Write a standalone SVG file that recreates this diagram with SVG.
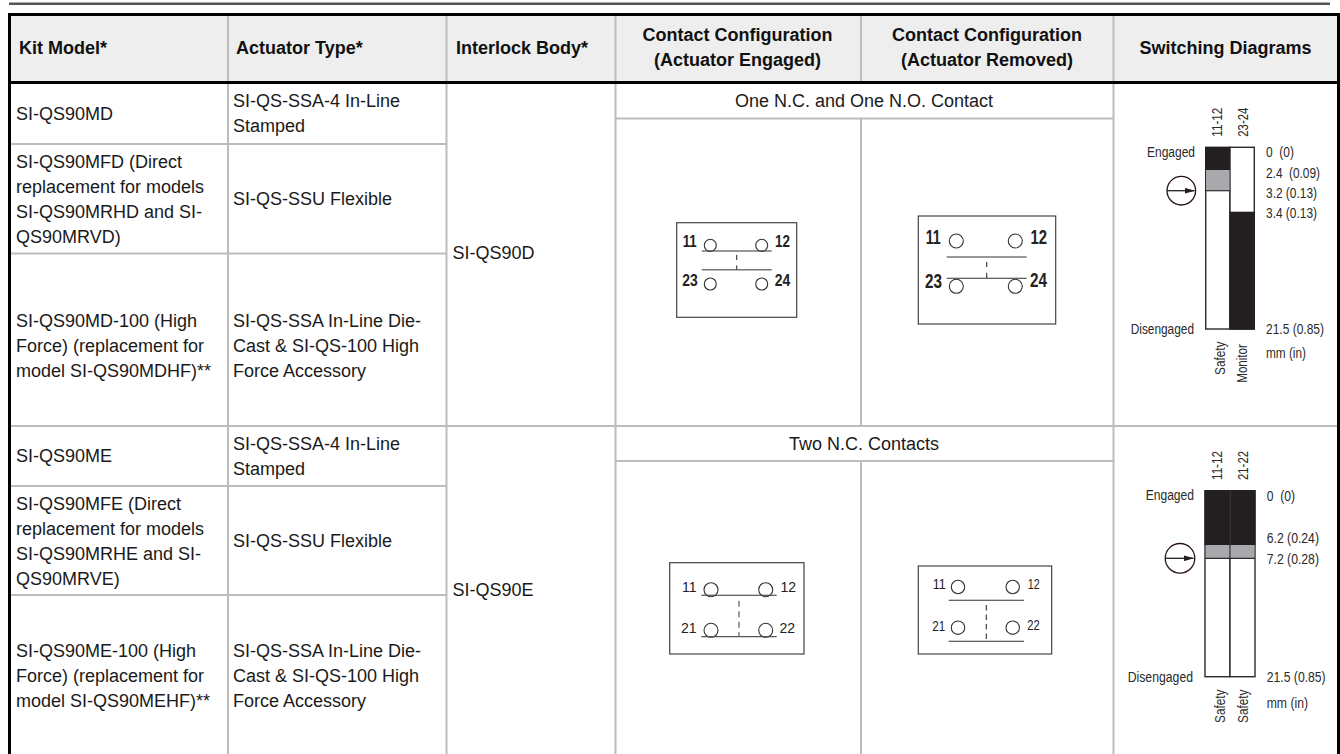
<svg xmlns="http://www.w3.org/2000/svg" width="1340" height="754" viewBox="0 0 1340 754">
<style>
text{font-family:"Liberation Sans",Arial,sans-serif;fill:#1a1a1a}
.c{font-size:18px}
.h{font-size:18px;font-weight:bold;fill:#111}
.m{text-anchor:middle}
.g{stroke:#bcbcbc;stroke-width:2;fill:none}
.k{stroke:#000;stroke-width:3;fill:none}
.d{font-size:15.5px;fill:#2a2a2a}
.b{font-weight:bold;font-size:17px;fill:#222}
.b2{font-weight:bold;font-size:19.5px;fill:#222}
.n{font-size:14px;fill:#222}
.n2{font-size:15px;fill:#222}
.o{fill:#fff;stroke:#333;stroke-width:1.1}
.l{stroke:#333;stroke-width:1.1;fill:none}
.r{stroke:#444;stroke-width:1.2;fill:none}
.bar{stroke:#2a2a2a;stroke-width:1.4;fill:#fff}
.blk{fill:#231f20}
.gry{fill:#a7a9ac}
</style>
<defs>
<marker id="ah" markerWidth="10" markerHeight="6" refX="9.5" refY="3" orient="auto" markerUnits="userSpaceOnUse"><path d="M0 0.2L10 3L0 5.8Z" fill="#231f20"/></marker>
</defs>
<rect width="1340" height="754" fill="#fff"/>
<rect id="top-rule" x="9" y="2.500" width="1321" height="2.500" fill="#555"/>
<g id="table-grid">
<rect x="9.500" y="14.500" width="1328" height="68" fill="#eee"/>
<path class="g" d="M228 15V754M446.500 15V754M615.500 15V754M861 15V81M861 118V425M861 461V754M1113.500 15V754"/>
<path class="g" d="M10 144H446M10 253.500H446M10 426H1337M10 486H446M10 595H446M615 118.500H1113M615 461H1113"/>
<path class="k" d="M9.500 754V14.500H1338.500V754M9.500 82.500H1338.500"/>
</g>
<g id="header">
<text class="h" x="19" y="54.300">Kit Model*</text>
<text class="h" x="236" y="54.300">Actuator Type*</text>
<text class="h" x="456" y="54.300">Interlock Body*</text>
<text class="h m" x="737.500" y="40.700">Contact Configuration</text>
<text class="h m" x="737.500" y="65.700">(Actuator Engaged)</text>
<text class="h m" x="987" y="40.700">Contact Configuration</text>
<text class="h m" x="987" y="65.700">(Actuator Removed)</text>
<text class="h m" x="1225.500" y="54.300">Switching Diagrams</text>
</g>
<g id="rows">
<text class="c" x="16" y="119.500">SI-QS90MD</text>
<text class="c" x="233" y="107">SI-QS-SSA-4 In-Line</text>
<text class="c" x="233" y="131.500">Stamped</text>
<text class="c" x="16" y="167.500">SI-QS90MFD (Direct</text>
<text class="c" x="16" y="192.500">replacement for models</text>
<text class="c" x="16" y="217.500">SI-QS90MRHD and SI-</text>
<text class="c" x="16" y="242.500">QS90MRVD)</text>
<text class="c" x="233" y="204.500">SI-QS-SSU Flexible</text>
<text class="c" x="16" y="326.500">SI-QS90MD-100 (High</text>
<text class="c" x="16" y="351.500">Force) (replacement for</text>
<text class="c" x="16" y="376.500">model SI-QS90MDHF)**</text>
<text class="c" x="233" y="326.500">SI-QS-SSA In-Line Die-</text>
<text class="c" x="233" y="351.500">Cast &amp; SI-QS-100 High</text>
<text class="c" x="233" y="376.500">Force Accessory</text>
<text class="c" x="452.500" y="258.500">SI-QS90D</text>
<text class="c m" x="864" y="106.500">One N.C. and One N.O. Contact</text>
<text class="c" x="16" y="461.500">SI-QS90ME</text>
<text class="c" x="233" y="449.500">SI-QS-SSA-4 In-Line</text>
<text class="c" x="233" y="474.500">Stamped</text>
<text class="c" x="16" y="509.500">SI-QS90MFE (Direct</text>
<text class="c" x="16" y="534.500">replacement for models</text>
<text class="c" x="16" y="559.500">SI-QS90MRHE and SI-</text>
<text class="c" x="16" y="584.500">QS90MRVE)</text>
<text class="c" x="233" y="547">SI-QS-SSU Flexible</text>
<text class="c" x="16" y="656.500">SI-QS90ME-100 (High</text>
<text class="c" x="16" y="681.500">Force) (replacement for</text>
<text class="c" x="16" y="706.500">model SI-QS90MEHF)**</text>
<text class="c" x="233" y="656.500">SI-QS-SSA In-Line Die-</text>
<text class="c" x="233" y="681.500">Cast &amp; SI-QS-100 High</text>
<text class="c" x="233" y="706.500">Force Accessory</text>
<text class="c" x="452.500" y="596">SI-QS90E</text>
<text class="c m" x="864" y="449.500">Two N.C. Contacts</text>
</g>
<g id="contact-d-engaged">
<rect class="r" x="676.700" y="222.700" width="120" height="94.600"/>
<text class="b" x="682.700" y="247.300" textLength="14" lengthAdjust="spacingAndGlyphs">11</text>
<text class="b" x="775" y="247.300" textLength="15" lengthAdjust="spacingAndGlyphs">12</text>
<text class="b" x="682.300" y="286" textLength="15.500" lengthAdjust="spacingAndGlyphs">23</text>
<text class="b" x="774.700" y="286" textLength="15.500" lengthAdjust="spacingAndGlyphs">24</text>
<circle class="o" cx="710.300" cy="245.300" r="6"/><circle class="o" cx="761.700" cy="245.300" r="6"/>
<circle class="o" cx="710.300" cy="284" r="6"/><circle class="o" cx="761.700" cy="284" r="6"/>
<path class="l" d="M701.700 251H771.700"/>
<path d="M701.700 269.700H771.700" stroke="#777" stroke-width="1.400"/>
<path class="l" d="M736.700 255V260M736.700 265.500V269.700"/>
</g>
<g id="contact-d-removed">
<rect class="r" x="918.300" y="216" width="137.400" height="108"/>
<text class="b2" x="925.700" y="244" textLength="15" lengthAdjust="spacingAndGlyphs">11</text>
<text class="b2" x="1030.500" y="244" textLength="16.500" lengthAdjust="spacingAndGlyphs">12</text>
<text class="b2" x="925" y="288" textLength="17" lengthAdjust="spacingAndGlyphs">23</text>
<text class="b2" x="1030" y="287.300" textLength="17" lengthAdjust="spacingAndGlyphs">24</text>
<circle class="o" cx="956.300" cy="241" r="7"/><circle class="o" cx="1015.300" cy="241" r="7"/>
<circle class="o" cx="956.300" cy="286.300" r="7"/><circle class="o" cx="1015.300" cy="286.300" r="7"/>
<path class="l" d="M946.700 257H1026.700M946.700 278.300H1026.700M986.700 262V267M986.700 272.700V278.300"/>
</g>
<g id="contact-e-engaged">
<rect class="r" x="669.700" y="562.700" width="134.300" height="91.300"/>
<text class="n" x="682" y="591.700">11</text>
<text class="n" x="780.500" y="591.700">12</text>
<text class="n" x="681" y="633.300">21</text>
<text class="n" x="779.500" y="633.300">22</text>
<circle class="o" cx="711" cy="589.700" r="7"/><circle class="o" cx="765.700" cy="589.700" r="7"/>
<circle class="o" cx="711" cy="630.300" r="7"/><circle class="o" cx="765.700" cy="630.300" r="7"/>
<path class="l" d="M701.300 595.300H776.700"/>
<path d="M701.300 636.700H776.700" stroke="#555" stroke-width="1.300"/>
<path d="M739 600.700V636.700" stroke="#666" stroke-width="1.300" stroke-dasharray="6 4.500"/>
</g>
<g id="contact-e-removed">
<rect class="r" x="918.300" y="566" width="133.400" height="88"/>
<text class="n2" x="932.700" y="589" textLength="13" lengthAdjust="spacingAndGlyphs">11</text>
<text class="n2" x="1027.700" y="589" textLength="12" lengthAdjust="spacingAndGlyphs">12</text>
<text class="n2" x="932.300" y="630.700" textLength="13" lengthAdjust="spacingAndGlyphs">21</text>
<text class="n2" x="1027.300" y="630" textLength="12.500" lengthAdjust="spacingAndGlyphs">22</text>
<circle class="o" cx="958" cy="587" r="6.700"/><circle class="o" cx="1012.700" cy="587" r="6.700"/>
<circle class="o" cx="958" cy="627.700" r="6.700"/><circle class="o" cx="1012.700" cy="627.700" r="6.700"/>
<path class="l" d="M948.700 600.300H1024M948.700 641.300H1024"/>
<path class="l" d="M986.300 605V641.300" stroke-dasharray="5.500 4"/>
</g>
<g id="switching-d">
<rect class="bar" x="1205.700" y="147.300" width="24.300" height="181.700"/>
<rect class="bar" x="1230" y="147.300" width="24.300" height="181.700"/>
<rect class="blk" x="1205" y="147" width="25" height="23"/>
<rect class="gry" x="1206.500" y="170" width="23" height="20.300"/>
<path d="M1205.700 190.700H1230" stroke="#2a2a2a" stroke-width="1.200"/>
<rect class="blk" x="1229.500" y="211.700" width="25.500" height="118"/>
<circle cx="1181.300" cy="190.700" r="14.300" fill="none" stroke="#2a1214" stroke-width="1.300"/>
<path d="M1167 190.700H1194.500" stroke="#231f20" stroke-width="1.300" marker-end="url(#ah)"/>
<text class="d" transform="translate(1222.300 136.700) rotate(-90)" textLength="29" lengthAdjust="spacingAndGlyphs">11-12</text>
<text class="d" transform="translate(1247.700 136.700) rotate(-90)" textLength="29" lengthAdjust="spacingAndGlyphs">23-24</text>
<text class="d" x="1147" y="156.700" textLength="48" lengthAdjust="spacingAndGlyphs">Engaged</text>
<text class="d" x="1130.700" y="334" textLength="63.300" lengthAdjust="spacingAndGlyphs">Disengaged</text>
<text class="d" x="1266" y="156.700" textLength="28" lengthAdjust="spacingAndGlyphs" xml:space="preserve">0  (0)</text>
<text class="d" x="1266" y="177.700" textLength="54" lengthAdjust="spacingAndGlyphs" xml:space="preserve">2.4  (0.09)</text>
<text class="d" x="1266" y="198" textLength="51" lengthAdjust="spacingAndGlyphs">3.2 (0.13)</text>
<text class="d" x="1266" y="218" textLength="51" lengthAdjust="spacingAndGlyphs">3.4 (0.13)</text>
<text class="d" x="1266" y="334" textLength="58" lengthAdjust="spacingAndGlyphs">21.5 (0.85)</text>
<text class="d" x="1266" y="358" textLength="40" lengthAdjust="spacingAndGlyphs">mm (in)</text>
<text class="d" transform="translate(1225 375) rotate(-90)" textLength="33.500" lengthAdjust="spacingAndGlyphs">Safety</text>
<text class="d" transform="translate(1247.300 382.700) rotate(-90)" textLength="38.500" lengthAdjust="spacingAndGlyphs">Monitor</text>
</g>
<g id="switching-e">
<rect class="bar" x="1205" y="490.700" width="25" height="186"/>
<rect class="bar" x="1230" y="490.700" width="25" height="186"/>
<rect class="blk" x="1204.500" y="490.300" width="25.300" height="55"/>
<rect class="blk" x="1230.300" y="490.300" width="25.200" height="55"/>
<rect class="gry" x="1206" y="545" width="23.300" height="13"/>
<rect class="gry" x="1231" y="545" width="23.300" height="13"/>
<path d="M1205 558.300H1255" stroke="#2a2a2a" stroke-width="1.300"/>
<circle cx="1180" cy="558.300" r="14.800" fill="none" stroke="#2a1214" stroke-width="1.300"/>
<path d="M1165.500 558.300H1193.500" stroke="#231f20" stroke-width="1.300" marker-end="url(#ah)"/>
<text class="d" transform="translate(1222.300 480) rotate(-90)" textLength="29" lengthAdjust="spacingAndGlyphs">11-12</text>
<text class="d" transform="translate(1247.700 480) rotate(-90)" textLength="29" lengthAdjust="spacingAndGlyphs">21-22</text>
<text class="d" x="1145.700" y="500" textLength="48.300" lengthAdjust="spacingAndGlyphs">Engaged</text>
<text class="d" x="1127.700" y="681.700" textLength="65.300" lengthAdjust="spacingAndGlyphs">Disengaged</text>
<text class="d" x="1266.700" y="500.700" textLength="28.300" lengthAdjust="spacingAndGlyphs" xml:space="preserve">0  (0)</text>
<text class="d" x="1266.700" y="543" textLength="52.300" lengthAdjust="spacingAndGlyphs">6.2 (0.24)</text>
<text class="d" x="1266.700" y="564" textLength="52.300" lengthAdjust="spacingAndGlyphs">7.2 (0.28)</text>
<text class="d" x="1266.700" y="681.700" textLength="59" lengthAdjust="spacingAndGlyphs">21.5 (0.85)</text>
<text class="d" x="1266.700" y="708" textLength="41.300" lengthAdjust="spacingAndGlyphs">mm (in)</text>
<text class="d" transform="translate(1225 723) rotate(-90)" textLength="33.500" lengthAdjust="spacingAndGlyphs">Safety</text>
<text class="d" transform="translate(1248 723) rotate(-90)" textLength="33.500" lengthAdjust="spacingAndGlyphs">Safety</text>
</g>
</svg>
